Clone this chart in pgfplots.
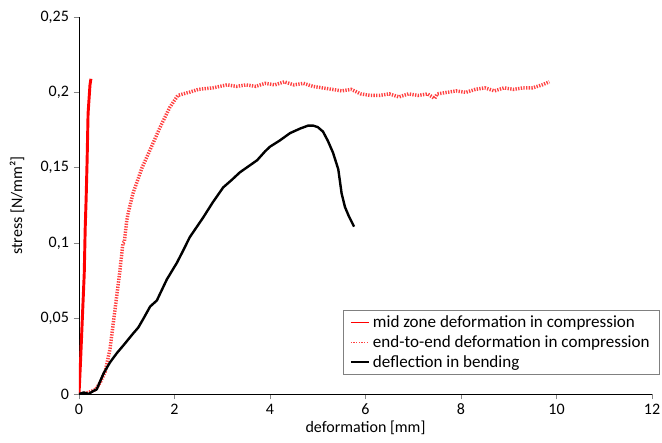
\documentclass[border=0pt]{standalone}
\usepackage{fontspec}
\setmainfont{Carlito}
\usepackage{pgfplots}
\pgfplotsset{compat=1.18}
\definecolor{axisgrey}{HTML}{868686}
\definecolor{legendgrey}{HTML}{808080}

\begin{document}
\begin{tikzpicture}
\begin{axis}[
  scale only axis,
  width=429.75pt, height=282.75pt,
  xmin=0, xmax=12, ymin=0, ymax=0.25,
  xtick={0,2,4,6,8,10,12},
  ytick={0,0.05,0.1,0.15,0.2,0.25},
  axis x line*=bottom, axis y line*=left,
  axis line style={black, line width=0.6pt, -},
  tick align=outside,
  major tick length=4pt,
  tick style={axisgrey, line width=0.6pt},
  /pgf/number format/assume math mode=true,
  /pgf/number format/use comma,
  /pgf/number format/fixed,
  ticklabel style={font=\fontsize{12}{14}\selectfont},
  label style={font=\fontsize{12}{14}\selectfont},
  xlabel={deformation [mm]},
  ylabel={stress [N/mm²]},
  x label style={at={(axis description cs:0.5,-0.09)}, anchor=center},
  y label style={at={(axis description cs:-0.108,0.5)}, anchor=center},
  legend cell align=left,
  legend style={at={(0.4607,0.2228)}, anchor=north west, draw=legendgrey,
    font=\fontsize{12.8}{15}\selectfont, row sep=0.5pt,
    inner xsep=5pt, inner ysep=2pt},
  legend image code/.code={\draw[#1, line width=1.3pt] (0pt,0pt) -- (14pt,0pt);},
]
% mid zone deformation in compression
\addplot[red, line width=2.2pt, line join=round] coordinates {
  (0,0) (0.03,0.02) (0.07,0.05) (0.11,0.08) (0.13,0.11) (0.15,0.13)
  (0.17,0.155) (0.19,0.186) (0.23,0.205) (0.25,0.209)
};
\addlegendentry{mid zone deformation in compression}
% end-to-end deformation in compression
\addplot[red!75, line width=2.6pt, dash pattern=on 1pt off 1pt] coordinates {
  (0.05,0) (0.2,0.001) (0.35,0.003) (0.45,0.008) (0.55,0.015) (0.65,0.03)
  (0.75,0.055) (0.85,0.08) (0.92,0.1) (0.95,0.101) (1.0,0.115) (1.03,0.12)
  (1.13,0.133) (1.32,0.15) (1.49,0.162) (1.7,0.177) (1.9,0.19) (2.07,0.198)
  (2.3,0.2) (2.5,0.202) (2.8,0.203) (3.1,0.205) (3.3,0.204) (3.5,0.205)
  (3.7,0.204) (3.9,0.206) (4.1,0.205) (4.3,0.207) (4.5,0.205) (4.7,0.206)
  (4.9,0.204) (5.1,0.203) (5.3,0.202) (5.5,0.201) (5.7,0.202) (5.9,0.199)
  (6.1,0.198) (6.3,0.198) (6.5,0.199) (6.7,0.197) (6.9,0.199) (7.1,0.198)
  (7.3,0.199) (7.45,0.196) (7.5,0.199) (7.7,0.2) (7.9,0.201) (8.1,0.2)
  (8.3,0.202) (8.5,0.203) (8.7,0.201) (8.9,0.203) (9.1,0.202) (9.3,0.203)
  (9.5,0.203) (9.7,0.205) (9.85,0.207)
};
\addlegendentry{end-to-end deformation in compression}
% deflection in bending
\addplot[black, line width=1.8pt, line join=round] coordinates {
  (0,0) (0.1,0.001) (0.2,0.0) (0.3,0.002) (0.37,0.003) (0.45,0.009)
  (0.52,0.014) (0.65,0.021) (0.79,0.027) (0.95,0.033) (1.13,0.04) (1.24,0.044)
  (1.35,0.05) (1.49,0.058) (1.63,0.062) (1.75,0.07) (1.84,0.076) (2.05,0.087)
  (2.18,0.095) (2.32,0.104) (2.6,0.117) (2.8,0.127) (3.02,0.137) (3.2,0.142)
  (3.37,0.147) (3.55,0.151) (3.73,0.155) (3.9,0.161) (4.0,0.164) (4.2,0.168)
  (4.42,0.173) (4.63,0.176) (4.8,0.178) (4.9,0.178) (5.0,0.177) (5.11,0.174)
  (5.21,0.168) (5.32,0.16) (5.43,0.149) (5.5,0.133) (5.57,0.124) (5.65,0.118)
  (5.76,0.111)
};
\addlegendentry{deflection in bending}
\end{axis}
\pgfresetboundingbox
\path (-59.25pt,-36.75pt) rectangle (437.25pt,295.5pt);
\end{tikzpicture}
\end{document}
